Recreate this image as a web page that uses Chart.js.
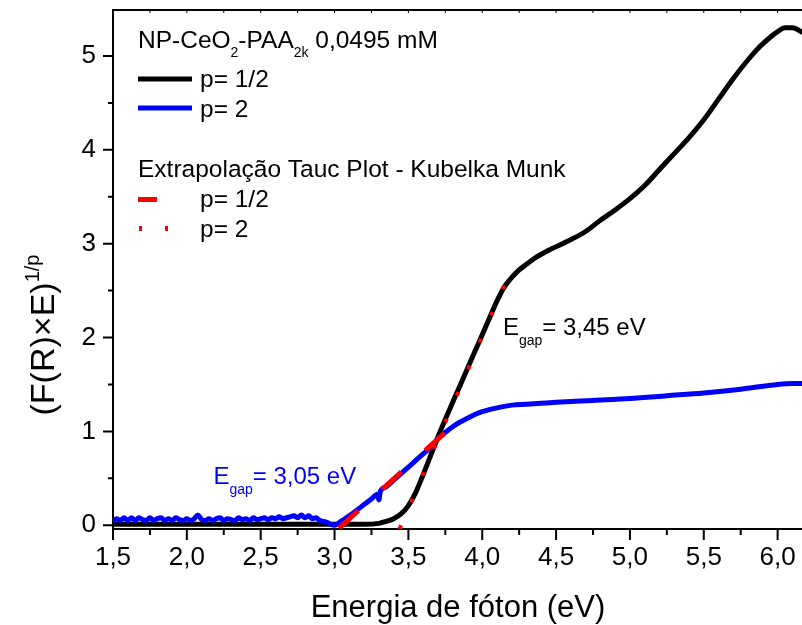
<!DOCTYPE html>
<html>
<head>
<meta charset="utf-8">
<script src="https://cdn.jsdelivr.net/npm/chart.js@4.4.1/dist/chart.umd.min.js"></script>
<style>
  html, body { margin: 0; padding: 0; background: #fff; }
  #wrap { width: 802px; height: 625px; }
</style>
</head>
<body>
<div id="wrap"><canvas id="tauc" width="802" height="625"></canvas></div>
<script>
// Tauc plot (Kubelka-Munk) for NP-CeO2-PAA2k 0,0495 mM

// p = 1/2 curve
const energyHalf = [1.50, 2.00, 2.50, 3.00, 3.20, 3.30, 3.35, 3.40, 3.45, 3.50, 3.55, 3.60, 3.65,
  3.70, 3.75, 3.80, 3.85, 3.90, 3.95, 4.00, 4.05, 4.10, 4.15, 4.20, 4.25, 4.30, 4.35, 4.45,
  4.57, 4.70, 4.80, 4.90, 5.00, 5.10, 5.20, 5.30, 5.40, 5.50, 5.60, 5.70, 5.80, 5.88, 5.95,
  6.00, 6.05, 6.10, 6.17];
const taucHalf = [0.01, 0.01, 0.01, 0.01, 0.01, 0.02, 0.04, 0.07, 0.12, 0.21, 0.35, 0.54, 0.74,
  0.94, 1.13, 1.31, 1.49, 1.67, 1.85, 2.03, 2.21, 2.39, 2.54, 2.64, 2.72, 2.78, 2.84, 2.93,
  3.02, 3.13, 3.25, 3.36, 3.48, 3.62, 3.79, 3.96, 4.13, 4.32, 4.54, 4.76, 4.96, 5.10, 5.20,
  5.26, 5.30, 5.30, 5.25];

// p = 2 curve
const energyTwo = [1.500, 1.525, 1.550, 1.575, 1.600, 1.625, 1.650, 1.675, 1.700, 1.725,
  1.750, 1.775, 1.800, 1.825, 1.850, 1.875, 1.900, 1.925, 1.950, 1.975,
  2.000, 2.025, 2.050, 2.075, 2.100, 2.125, 2.150, 2.175, 2.200, 2.225,
  2.250, 2.275, 2.300, 2.325, 2.350, 2.375, 2.400, 2.425, 2.450, 2.475,
  2.500, 2.525, 2.550, 2.575, 2.600, 2.625, 2.650, 2.675, 2.700, 2.725,
  2.750, 2.775, 2.800, 2.825, 2.850, 2.875, 2.900, 2.925, 2.950, 2.975,
  3.00, 3.05, 3.10, 3.15, 3.20, 3.25, 3.29, 3.30, 3.31, 3.35, 3.40, 3.45, 3.50, 3.55,
  3.60, 3.65, 3.70, 3.75, 3.80, 3.85, 3.90, 3.95, 4.00, 4.10, 4.20, 4.30, 4.40, 4.50,
  4.75, 5.00, 5.25, 5.50, 5.75, 6.00, 6.10, 6.17];
const taucTwo = [0.04, 0.07, 0.05, 0.08, 0.05, 0.08, 0.05, 0.08, 0.06, 0.05,
  0.08, 0.05, 0.07, 0.08, 0.05, 0.07, 0.05, 0.08, 0.06, 0.05,
  0.07, 0.05, 0.07, 0.11, 0.06, 0.05, 0.07, 0.05, 0.07, 0.08,
  0.05, 0.07, 0.06, 0.05, 0.08, 0.06, 0.07, 0.05, 0.08, 0.06,
  0.07, 0.08, 0.06, 0.08, 0.07, 0.09, 0.07, 0.08, 0.09, 0.10,
  0.08, 0.11, 0.08, 0.10, 0.07, 0.08, 0.05, 0.04, 0.03, 0.01,
  0.00, 0.05, 0.10, 0.16, 0.22, 0.28, 0.33, 0.27, 0.36, 0.41, 0.48, 0.55, 0.62, 0.69,
  0.76, 0.83, 0.92, 0.99, 1.05, 1.10, 1.14, 1.18, 1.21, 1.25, 1.28, 1.29, 1.30, 1.31,
  1.33, 1.35, 1.38, 1.41, 1.45, 1.50, 1.51, 1.51];

// linear extrapolations down to the energy axis
const gapHalf = 3.45;
const gapTwo = 3.05;
const fitHalfE = [3.44, 4.16];
const fitHalfY = [-0.04, 2.60];
const fitTwoE = [3.03, 3.75];
const fitTwoY = [-0.03, 0.99];

const xTicks = [1.5, 2.0, 2.5, 3.0, 3.5, 4.0, 4.5, 5.0, 5.5, 6.0];
const xMinor = [1.75, 2.25, 2.75, 3.25, 3.75, 4.25, 4.75, 5.25, 5.75];
const yTicks = [0, 1, 2, 3, 4, 5];
const yMinor = [0.5, 1.5, 2.5, 3.5, 4.5];

const FONT = '"Liberation Sans", Arial, sans-serif';
const BLUE = '#0000ff';
const RED = '#ff0000';

const pts = (xs, ys) => xs.map((x, i) => ({ x: x, y: ys[i] }));
const comma = (v, d) => v.toFixed(d).replace('.', ',');

// text with inline sub/superscripts
function drawRuns(ctx, x, y, runs, size, small, shift, color) {
  ctx.save();
  ctx.fillStyle = color;
  ctx.textAlign = 'left';
  ctx.textBaseline = 'alphabetic';
  for (const r of runs) {
    const s = r.sub || r.sup ? small : size;
    const dy = r.sub ? shift : r.sup ? -shift : 0;
    ctx.font = s + 'px ' + FONT;
    ctx.fillText(r.t, x, y + dy);
    x += ctx.measureText(r.t).width;
  }
  ctx.restore();
  return x;
}

function runsWidth(ctx, runs, size, small) {
  let w = 0;
  for (const r of runs) {
    ctx.font = (r.sub || r.sup ? small : size) + 'px ' + FONT;
    w += ctx.measureText(r.t).width;
  }
  return w;
}

const frame = {
  id: 'frame',
  beforeDatasetsDraw(chart) {
    const { ctx, chartArea: a, scales: { x, y } } = chart;
    ctx.save();
    ctx.strokeStyle = '#000';
    ctx.lineWidth = 2;
    ctx.beginPath();
    ctx.moveTo(a.left, a.top); ctx.lineTo(a.right, a.top);
    ctx.moveTo(a.left, a.top - 1); ctx.lineTo(a.left, a.bottom + 1);
    ctx.moveTo(a.left - 1, a.bottom); ctx.lineTo(a.right, a.bottom);
    for (const v of xTicks) { const p = x.getPixelForValue(v); ctx.moveTo(p, a.bottom); ctx.lineTo(p, a.bottom + 11); }
    for (const v of xMinor) { const p = x.getPixelForValue(v); ctx.moveTo(p, a.bottom); ctx.lineTo(p, a.bottom + 6); }
    for (const v of yTicks) { const p = y.getPixelForValue(v); ctx.moveTo(a.left, p); ctx.lineTo(a.left - 10, p); }
    for (const v of yMinor) { const p = y.getPixelForValue(v); ctx.moveTo(a.left, p); ctx.lineTo(a.left - 5, p); }
    ctx.stroke();
    // short inward ticks along the top edge
    ctx.lineWidth = 1;
    ctx.beginPath();
    for (const v of xTicks.concat(xMinor)) { const p = x.getPixelForValue(v); ctx.moveTo(p, a.top); ctx.lineTo(p, a.top + 3); }
    ctx.stroke();
    ctx.restore();
  },
  afterDatasetsDraw(chart) {
    const { ctx, chartArea: a, scales: { x, y } } = chart;

    // axis titles
    ctx.save();
    ctx.fillStyle = '#000';
    ctx.font = '31px ' + FONT;
    ctx.textAlign = 'center';
    ctx.textBaseline = 'alphabetic';
    ctx.fillText('Energia de fóton (eV)', 458, 617);
    ctx.restore();

    const yTitle = [{ t: '(F(R)\u00d7E)' }, { t: '1/p', sup: true }];
    ctx.save();
    ctx.translate(42, 335);
    ctx.rotate(-Math.PI / 2);
    const w = runsWidth(ctx, yTitle, 34, 20);
    drawRuns(ctx, -w / 2, 12, yTitle, 34, 20, 15, '#000');
    ctx.restore();

    // legend block
    const lx = a.left + 25;
    const fs = 24.5;
    drawRuns(ctx, lx, 48, [
      { t: 'NP-CeO' }, { t: '2', sub: true }, { t: '-PAA' }, { t: '2k', sub: true }, { t: ' 0,0495 mM' }
    ], fs, 14, 9, '#000');

    ctx.save();
    ctx.lineCap = 'butt';
    ctx.lineWidth = 5;
    ctx.strokeStyle = '#000';
    ctx.beginPath(); ctx.moveTo(lx, 79); ctx.lineTo(lx + 54, 79); ctx.stroke();
    ctx.strokeStyle = BLUE;
    ctx.beginPath(); ctx.moveTo(lx, 108); ctx.lineTo(lx + 54, 108); ctx.stroke();
    ctx.fillStyle = RED;
    ctx.fillRect(lx, 197, 19, 5);
    ctx.fillRect(lx + 1, 226, 3, 5);
    ctx.fillRect(lx + 27, 226, 3, 5);
    ctx.restore();

    drawRuns(ctx, lx + 62, 87, [{ t: 'p= 1/2' }], fs, 14, 9, '#000');
    drawRuns(ctx, lx + 62, 117, [{ t: 'p= 2' }], fs, 14, 9, '#000');
    drawRuns(ctx, lx, 177, [{ t: 'Extrapolação Tauc Plot - Kubelka Munk' }], fs, 14, 9, '#000');
    drawRuns(ctx, lx + 62, 207, [{ t: 'p= 1/2' }], fs, 14, 9, '#000');
    drawRuns(ctx, lx + 62, 237, [{ t: 'p= 2' }], fs, 14, 9, '#000');

    // band-gap labels next to the extrapolated lines
    drawRuns(ctx, x.getPixelForValue(4.14), y.getPixelForValue(2.03), [
      { t: 'E' }, { t: 'gap', sub: true }, { t: '= ' + comma(gapHalf, 2) + ' eV' }
    ], 24, 14, 10, '#000');
    drawRuns(ctx, x.getPixelForValue(2.18), y.getPixelForValue(0.44), [
      { t: 'E' }, { t: 'gap', sub: true }, { t: '= ' + comma(gapTwo, 2) + ' eV' }
    ], 24, 14, 10, BLUE);
  }
};

new Chart(document.getElementById('tauc'), {
  type: 'line',
  data: {
    datasets: [
      {
        label: 'p= 1/2',
        data: pts(energyHalf, taucHalf),
        borderColor: '#000',
        borderWidth: 5,
        pointRadius: 0,
        cubicInterpolationMode: 'monotone',
        order: 4
      },
      {
        label: 'p= 2',
        data: pts(energyTwo, taucTwo),
        borderColor: BLUE,
        borderWidth: 5,
        pointRadius: 0,
        cubicInterpolationMode: 'monotone',
        order: 3
      },
      {
        label: 'Extrapolação p= 2',
        data: pts(fitTwoE, fitTwoY),
        borderColor: RED,
        borderWidth: 5,
        borderDash: [26, 32],
        borderCapStyle: 'butt',
        pointRadius: 0,
        order: 2
      },
      {
        label: 'Extrapolação p= 1/2',
        data: pts(fitHalfE, fitHalfY),
        borderColor: RED,
        borderWidth: 4,
        borderDash: [4, 25],
        borderCapStyle: 'butt',
        pointRadius: 0,
        order: 1
      }
    ]
  },
  options: {
    responsive: false,
    animation: false,
    layout: { padding: { top: 10, right: 0, bottom: 0, left: 0 } },
    plugins: { legend: { display: false }, tooltip: { enabled: false } },
    scales: {
      x: {
        type: 'linear',
        min: 1.5,
        max: 6.165,
        grid: { display: false, drawTicks: true, tickLength: 11 },
        border: { display: false },
        afterBuildTicks: s => { s.ticks = xTicks.map(v => ({ value: v })); },
        afterFit: s => { s.height = 96; s.paddingLeft = 0; s.paddingRight = 0; },
        ticks: {
          autoSkip: false,
          maxRotation: 0,
          padding: 2,
          color: '#000',
          font: { family: FONT, size: 26 },
          callback: v => comma(v, 1)
        }
      },
      y: {
        min: -0.04,
        max: 5.49,
        grid: { display: false, drawTicks: true, tickLength: 10 },
        border: { display: false },
        afterBuildTicks: s => { s.ticks = yTicks.map(v => ({ value: v })); },
        afterFit: s => { s.width = 113; s.paddingTop = 0; s.paddingBottom = 0; },
        ticks: {
          padding: 7,
          color: '#000',
          font: { family: FONT, size: 26 },
          callback: v => String(v)
        }
      }
    }
  },
  plugins: [frame]
});
</script>
</body>
</html>
